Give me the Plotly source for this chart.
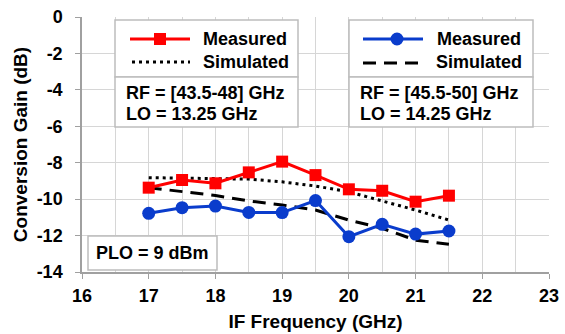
import plotly.graph_objects as go

# ---- data ----
if_freq = [17, 17.5, 18, 18.5, 19, 19.5, 20, 20.5, 21, 21.5]
meas_low = [-9.37, -8.95, -9.13, -8.53, -7.94, -8.68, -9.46, -9.54, -10.14, -9.81]
sim_low = [-8.82, -8.85, -8.87, -8.9, -9.05, -9.28, -9.6, -10.1, -10.6, -11.15]
meas_high = [-10.78, -10.47, -10.38, -10.73, -10.74, -10.08, -12.06, -11.38, -11.92, -11.75]
sim_high = [-9.37, -9.59, -9.8, -10.1, -10.32, -10.6, -11.15, -11.6, -12.25, -12.48]

x_ticks = [16, 17, 18, 19, 20, 21, 22, 23]
y_ticks = [0, -2, -4, -6, -8, -10, -12, -14]

RED = "#ff0000"
BLUE = "#0a3ccc"
FONT = "Liberation Sans, Arial, sans-serif"

W, H = 565, 334
ML, MR, MT, MB = 82, 16, 17, 62
PW, PH = W - ML - MR, H - MT - MB


def px(x):
    return (x - ML) / PW


def py(y):
    return 1 - (y - MT) / PH


fig = go.Figure()

fig.add_trace(go.Scatter(x=if_freq, y=sim_low, mode="lines",
                         line=dict(color="black", width=3, dash="3px,4px"), showlegend=False))
fig.add_trace(go.Scatter(x=if_freq, y=sim_high, mode="lines",
                         line=dict(color="black", width=3, dash="13px,8px"), showlegend=False))
fig.add_trace(go.Scatter(x=if_freq, y=meas_low, mode="lines+markers",
                         line=dict(color=RED, width=3),
                         marker=dict(symbol="square", size=12, color=RED), showlegend=False))
fig.add_trace(go.Scatter(x=if_freq, y=meas_high, mode="lines+markers",
                         line=dict(color=BLUE, width=3),
                         marker=dict(symbol="circle", size=13, color=BLUE), showlegend=False))

shapes = []
annotations = []
BOX = "#bdbdbd"


def rect(x0, y0, x1, y1):
    shapes.append(dict(type="rect", xref="paper", yref="paper",
                       x0=px(x0), x1=px(x1), y0=py(y1), y1=py(y0),
                       line=dict(color=BOX, width=1.5), fillcolor="white", layer="above"))


def hline(x0, x1, y, color, width, dash="solid"):
    shapes.append(dict(type="line", xref="paper", yref="paper",
                       x0=px(x0), x1=px(x1), y0=py(y), y1=py(y),
                       line=dict(color=color, width=width, dash=dash), layer="above"))


def text(x, y, s, anchor="left", size=18):
    annotations.append(dict(xref="paper", yref="paper", x=px(x), y=py(y), text=s,
                            showarrow=False, xanchor=anchor, yanchor="middle",
                            font=dict(family=FONT, size=size, color="black", weight="bold")))


# left legend box
rect(115, 20, 298, 77)
rect(115, 77, 298, 127)
hline(130, 190, 39, RED, 3)
shapes.append(dict(type="rect", xref="paper", yref="paper",
                   x0=px(154), x1=px(166), y0=py(45), y1=py(33),
                   line=dict(color=RED, width=0), fillcolor=RED, layer="above"))
text(201, 39, "Measured")
hline(132, 190, 62, "black", 3, "3px,4px")
text(201, 62, "Simulated")
text(124, 93, "RF = [43.5-48] GHz")
text(124, 114, "LO = 13.25 GHz")

# right legend box
rect(349, 20, 533, 77)
rect(349, 77, 533, 127)
hline(363, 423, 39, BLUE, 3)
shapes.append(dict(type="circle", xref="paper", yref="paper",
                   x0=px(390.5), x1=px(403.5), y0=py(45.5), y1=py(32.5),
                   line=dict(color=BLUE, width=0), fillcolor=BLUE, layer="above"))
text(435, 39, "Measured")
hline(363, 426, 63, "black", 3, "13px,8px")
text(434, 62, "Simulated")
text(358, 93, "RF = [45.5-50] GHz")
text(358, 114, "LO = 14.25 GHz")

# PLO box
rect(88, 236, 217, 270)
text(152.5, 253, "PLO = 9 dBm", anchor="center")

fig.update_layout(
    width=W, height=H,
    margin=dict(l=ML, r=MR, t=MT, b=MB, autoexpand=False),
    paper_bgcolor="white", plot_bgcolor="white",
    shapes=shapes, annotations=annotations,
    font=dict(family=FONT, size=18, color="black", weight="bold"),
    xaxis=dict(range=[16, 23], tickvals=x_ticks, ticktext=[str(v) for v in x_ticks],
               automargin=False,
               showgrid=True, gridcolor="#d6d6d6", gridwidth=1,
               minor=dict(dtick=0.5, tick0=16, showgrid=True, gridcolor="#d6d6d6", gridwidth=1),
               showline=True, linecolor="#a0a0a0", linewidth=1.5,
               ticks="outside", ticklen=5, tickcolor="#a0a0a0",
               zeroline=False, ticklabelstandoff=2,
               tickfont=dict(family=FONT, size=18, color="black", weight="bold"),
               title=dict(text="IF Frequency (GHz)", standoff=9,
                          font=dict(family=FONT, size=19, color="black", weight="bold"))),
    yaxis=dict(range=[-14, 0], tickvals=y_ticks, ticktext=[str(v) for v in y_ticks],
               automargin=False,
               showgrid=True, gridcolor="#d6d6d6", gridwidth=1,
               showline=True, linecolor="#a0a0a0", linewidth=1.5,
               ticks="outside", ticklen=5, tickcolor="#a0a0a0",
               zeroline=False, ticklabelstandoff=9,
               tickfont=dict(family=FONT, size=18, color="black", weight="bold"),
               title=dict(text="Conversion Gain (dB)", standoff=4,
                          font=dict(family=FONT, size=19, color="black", weight="bold"))),
)

fig.write_html("out.html", config={"displayModeBar": False},
               post_script="document.body.style.margin='0px';")
